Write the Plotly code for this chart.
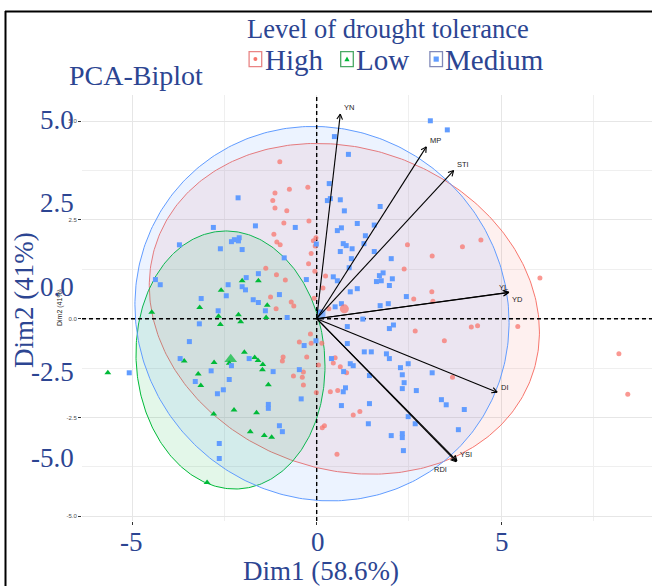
import numpy as np
import plotly.graph_objects as go

# ---------------- data ----------------
groups = ["High", "Low", "Medium"]
group_colors = ["#F8766D", "#00BA38", "#619CFF"]

high_x = [-1.00, -1.13, -0.74, -0.24, -1.19, -1.13, -0.81, -0.89, -0.21, -1.16,
          -1.08, -0.99, -0.02, -0.09, -0.04, -0.15, -0.22, -0.05, -1.38, -1.09,
          -0.85, 0.24, 0.17, -0.07, -1.25, -0.69, -0.62, -1.10, 0.33, 2.46,
          3.95, 3.13, 2.37, 3.12, 2.63, 3.15, 4.45, 6.05, 5.45, 4.19,
          4.36, 2.67, 3.46, 3.68, 8.19, 8.43, -0.17, -0.47, -0.15, 0.14,
          -0.27, -0.91, -0.93, 0.05, 0.50, 0.45, 0.64, 0.81, -0.36, -0.63,
          -0.39, -0.36, -0.01, 0.37, 0.57, 1.17, 0.99, 0.21, 0.15, 0.55]
high_y = [3.97, 3.18, 3.28, 3.33, 2.99, 2.80, 2.73, 2.42, 2.47, 2.14,
          1.94, 1.87, 2.05, 1.97, 1.84, 1.65, 1.39, 1.20, 1.28, 1.11,
          0.98, 1.08, 0.78, 0.52, 0.55, 0.42, 0.32, 0.25, 0.25, 1.87,
          1.82, 1.59, 1.26, 0.68, 0.50, 0.44, 1.99, 1.03, -0.20, -0.21,
          -0.18, -0.31, -0.56, -1.48, -0.89, -1.91, -0.39, -0.59, -0.62, -0.62,
          -0.97, -0.97, -1.07, -1.17, -0.99, -1.12, -1.22, -1.37, -1.35, -1.45,
          -1.48, -1.68, -1.87, -1.85, -1.82, -2.35, -2.44, -2.71, -2.76, -3.43]

low_x = [-2.02, -1.58, -2.59, -3.17, -4.47, -2.66, -2.12, -1.37, -1.34, -2.06,
         -2.61, -1.96, -1.68, -1.59, -1.46, -1.47, -3.59, -2.78, -2.37, -5.66,
         -3.21, -3.14, -1.31, -2.79, -2.24, -1.63, -1.80, -1.42, -1.22, -2.97]
low_y = [0.96, 0.96, 0.72, 0.28, 0.16, 0.06, 0.10, 0.03, 0.34, -0.08,
         -0.15, -0.85, -0.98, -1.06, -1.16, -1.29, -1.07, -1.11, -1.13, -1.37,
         -1.40, -1.69, -1.67, -2.41, -2.31, -2.38, -2.86, -2.96, -3.00, -4.15]

med_x = [3.08, 3.54, 0.48, 0.86, 0.34, 0.29, 0.37, 0.64, 0.75, 1.72,
         0.67, 0.56, 1.10, 1.56, 1.32, 0.72, 0.80, 0.96, 1.28, 0.64,
         1.56, 2.02, 0.94, 0.88, 1.80, 1.70, 2.05, 1.62, 1.75, 0.45,
         0.56, -0.28, 1.97, 1.10, 0.91, 2.43, 1.94, 1.72, 0.67, 0.50,
         1.25, 0.83, 1.97, 2.08, -0.01, -2.13, -2.80, -1.66, -0.58, -3.72,
         -2.31, -2.23, -2.10, -2.12, -2.61, -2.02, -0.88, -4.37, -4.24, -1.58,
         -1.91, -2.40, -2.02, -1.93, -2.45, -3.13, -1.72, -1.58, -1.01, -2.67,
         -1.39, -0.80, -3.18, -3.45, -0.34, -3.70, -1.83, -5.08, -2.31, -2.86,
         -3.29, -2.37, -2.53, -2.69, -1.18, -0.47, -0.42, -1.31, -1.31, -1.01,
         -0.93, -2.64, -2.64, -0.02, 0.83, 1.29, 1.48, 1.89, 1.97, 0.40,
         0.91, 0.99, 0.73, 1.43, 2.27, 2.48, 3.13, 2.32, 2.37, 2.32,
         2.70, 0.78, 0.72, 1.43, 0.67, 3.38, 3.51, 4.00, 2.48, 2.67,
         1.40, 3.84, 2.02, 2.32, 2.32, 2.35, 0.11]
med_y = [5.01, 4.78, 4.61, 4.16, 3.42, 2.99, 3.04, 3.01, 2.73, 2.84,
         2.30, 2.23, 2.41, 2.37, 2.10, 1.90, 1.85, 1.77, 1.90, 1.70,
         1.70, 1.52, 1.52, 1.29, 1.16, 1.09, 1.01, 0.94, 0.96, 1.06,
         0.96, 0.99, 0.84, 0.76, 0.68, 0.56, 0.38, 0.33, 0.38, 0.30,
         -0.01, -0.20, -0.25, -0.16, 1.89, 3.06, 2.31, 2.35, 2.31, 1.87,
         1.95, 2.00, 2.05, 1.97, 1.77, 1.75, 1.54, 0.99, 0.86, 1.14,
         1.04, 0.86, 0.81, 0.73, 0.58, 0.51, 0.48, 0.41, 0.61, 0.20,
         0.20, 0.03, -0.13, -0.58, -0.68, -1.01, -1.01, -1.37, -1.19, -1.32,
         -1.59, -1.54, -1.80, -1.90, -1.34, -1.29, -2.03, -2.17, -2.27, -2.71,
         -2.86, -3.16, -3.54, -0.56, -0.63, -0.84, -0.84, -0.89, -1.01, -1.01,
         -1.14, -1.19, -1.34, -1.44, -1.24, -1.14, -1.37, -1.42, -1.62, -1.77,
         -1.82, -1.75, -1.85, -2.15, -2.20, -2.05, -2.18, -2.30, -2.48, -2.66,
         -2.66, -2.81, -2.96, -2.91, -3.01, -3.34, 0.17]

# group mean points
mean_x = [0.75, -2.33, 0.13]
mean_y = [0.25, -1.03, 0.11]

# concentration ellipses: centre and covariance-like shape (Sxx, Syy, Sxy)
ell_cx = [0.75, -2.336, 0.144]
ell_cy = [0.25, -1.046, 0.127]
ell_sxx = [27.95, 6.56, 25.7]
ell_syy = [17.53, 10.67, 22.47]
ell_sxy = [-3.10, -0.40, -1.14]

# variable loadings (arrow tips)
var_names = ["YN", "MP", "STI", "YL", "YD", "DI", "YSI", "RDI"]
var_x = [0.64, 2.97, 3.71, 5.19, 5.21, 4.89, 3.80, 3.78]
var_y = [5.18, 4.35, 3.75, 0.66, 0.67, -1.86, -3.60, -3.62]

x_tick_vals = [-5, 0, 5]
x_tick_labels = ["-5", "0", "5"]
y_tick_vals = [-5.0, -2.5, 0.0, 2.5, 5.0]
y_tick_labels = ["-5.0", "-2.5", "0.0", "2.5", "5.0"]

title_text = "PCA-Biplot"
legend_title = "Level of drought tolerance"
x_title = "Dim1 (58.6%)"
y_title = "Dim2 (41%)"

# ---------------- layout geometry ----------------
W, H = 652, 586
ML, MR, MT, MB = 82, 0, 95, 65
XR = [-6.36, 9.087]
YR = [-5.122, 5.663]
SX = (W - ML - MR) / (XR[1] - XR[0])
SY = (H - MT - MB) / (YR[1] - YR[0])


def pxp(x):
    return (x - ML) / (W - ML - MR)


def pyp(y):
    return (H - MB - y) / (H - MT - MB)


NAVY = "#2c4592"
SERIF = "Liberation Serif"
SANS = "Liberation Sans"

fig = go.Figure()

# ellipses
fills = ["rgba(248,118,109,0.11)", "rgba(0,186,56,0.11)", "rgba(97,156,255,0.12)"]
t = np.linspace(0, 2 * np.pi, 361)
for i in range(3):
    l11 = np.sqrt(ell_sxx[i])
    l21 = ell_sxy[i] / l11
    l22 = np.sqrt(ell_syy[i] - l21 ** 2)
    ex = ell_cx[i] + l11 * np.cos(t)
    ey = ell_cy[i] + l21 * np.cos(t) + l22 * np.sin(t)
    fig.add_trace(go.Scatter(x=ex, y=ey, mode="lines", fill="toself",
                             fillcolor=fills[i],
                             line=dict(color=group_colors[i], width=1),
                             hoverinfo="skip", showlegend=False))

# dashed reference lines
fig.add_trace(go.Scatter(x=XR, y=[0, 0], mode="lines",
                         line=dict(color="black", width=1.4, dash="4px,3px"),
                         hoverinfo="skip", showlegend=False))
fig.add_trace(go.Scatter(x=[0, 0], y=YR, mode="lines",
                         line=dict(color="black", width=1.4, dash="4px,3px"),
                         hoverinfo="skip", showlegend=False))

# points
fig.add_trace(go.Scatter(x=high_x, y=high_y, mode="markers",
                         marker=dict(symbol="circle", size=5, color=group_colors[0],
                                     opacity=0.75, line=dict(width=0)),
                         showlegend=False))
fig.add_trace(go.Scatter(x=low_x, y=low_y, mode="markers",
                         marker=dict(symbol="triangle-up", size=6, color=group_colors[1],
                                     line=dict(width=0)),
                         showlegend=False))
fig.add_trace(go.Scatter(x=med_x, y=med_y, mode="markers",
                         marker=dict(symbol="square", size=5, color=group_colors[2],
                                     line=dict(width=0)),
                         showlegend=False))
fig.add_trace(go.Scatter(x=mean_x, y=mean_y, mode="markers",
                         marker=dict(symbol=["circle", "triangle-up", "square"],
                                     size=[9, 11, 8], color=group_colors,
                                     line=dict(width=0)),
                         showlegend=False))

# arrows
ax_l, ay_l = [], []
hx, hy = [], []
head_len = 6.0
ang = np.deg2rad(28)
for vx, vy in zip(var_x, var_y):
    ax_l += [0, vx, None]
    ay_l += [0, vy, None]
    ux, uy = vx * SX, vy * SY
    n = np.hypot(ux, uy)
    ux, uy = -ux / n, -uy / n
    for s in (ang, -ang):
        rx = ux * np.cos(s) - uy * np.sin(s)
        ry = ux * np.sin(s) + uy * np.cos(s)
        hx += [vx + rx * head_len / SX, vx, None]
        hy += [vy + ry * head_len / SY, vy, None]
fig.add_trace(go.Scatter(x=ax_l, y=ay_l, mode="lines",
                         line=dict(color="black", width=1.1),
                         hoverinfo="skip", showlegend=False))
fig.add_trace(go.Scatter(x=hx, y=hy, mode="lines",
                         line=dict(color="black", width=1.1),
                         hoverinfo="skip", showlegend=False))

# variable labels (pixel offsets from tip)
label_off = {"YN": (9, -7), "MP": (9, -6), "STI": (9, -6), "YL": (-5, -5),
             "YD": (9, 7), "DI": (8, -5), "YSI": (9, -6), "RDI": (-16, 8)}
annotations = []
for name, vx, vy in zip(var_names, var_x, var_y):
    dx, dy = label_off[name]
    annotations.append(dict(x=vx, y=vy, xref="x", yref="y", text=name,
                            showarrow=False, xshift=dx, yshift=-dy,
                            xanchor="center", yanchor="middle",
                            font=dict(family=SANS, size=7.5, color="#222222")))


def ptext(xpix, ypix, text, size, color=NAVY, family=SERIF, xanchor="center", angle=0):
    return dict(x=pxp(xpix), y=pyp(ypix), xref="paper", yref="paper",
                text=text, showarrow=False, xanchor=xanchor, yanchor="middle",
                textangle=angle, font=dict(family=family, size=size, color=color))


# small ggplot axis title
annotations.append(ptext(60, 308, y_title, 7, color="#222222", family=SANS, angle=-90))

# big overlay tick labels
big_y_pos = [457.5, 372, 287, 203, 120]
for lab, ypix in zip(y_tick_labels, big_y_pos):
    annotations.append(ptext(76, ypix, lab, 27, xanchor="right"))
big_x_pos = [131.5, 317.5, 501.5]
for lab, xpix in zip(x_tick_labels, big_x_pos):
    annotations.append(ptext(xpix, 542, lab, 27))
annotations.append(ptext(321, 571, x_title, 27))
annotations.append(ptext(24, 300, y_title, 27, angle=-90))
annotations.append(ptext(135.5, 75, title_text, 28))
annotations.append(ptext(388, 29.5, legend_title, 26.5))

# legend
leg_box_cx = [255.4, 347.0, 436.2]
leg_text_x = [262.5, 354.0, 443.0]
leg_outline = ["#e98585", "#4aa865", "#8189b9"]
shapes = []
for i, g in enumerate(groups):
    cx = leg_box_cx[i]
    shapes.append(dict(type="rect", xref="paper", yref="paper",
                       x0=pxp(cx - 6.3), x1=pxp(cx + 6.3), y0=pyp(66.6), y1=pyp(51.6),
                       line=dict(color=leg_outline[i], width=1.3), fillcolor="white"))
    annotations.append(ptext(leg_text_x[i], 60.3, g, 29, xanchor="left"))
cy0 = 59.1
shapes.append(dict(type="circle", xref="paper", yref="paper",
                   x0=pxp(leg_box_cx[0] - 2), x1=pxp(leg_box_cx[0] + 2),
                   y0=pyp(cy0 + 2), y1=pyp(cy0 - 2),
                   line=dict(width=0), fillcolor=group_colors[0]))
gx = leg_box_cx[1]
shapes.append(dict(type="path", xref="paper", yref="paper",
                   path=f"M {pxp(gx-2.6)},{pyp(cy0+2.2)} L {pxp(gx+2.6)},{pyp(cy0+2.2)} L {pxp(gx)},{pyp(cy0-2.6)} Z",
                   line=dict(width=0), fillcolor=group_colors[1]))
bx = leg_box_cx[2]
shapes.append(dict(type="rect", xref="paper", yref="paper",
                   x0=pxp(bx - 2.6), x1=pxp(bx + 2.6), y0=pyp(cy0 + 2.6), y1=pyp(cy0 - 2.6),
                   line=dict(width=0), fillcolor=group_colors[2]))

# outer frame
shapes.append(dict(type="line", xref="paper", yref="paper",
                   x0=pxp(5), x1=pxp(660), y0=pyp(11.5), y1=pyp(11.5),
                   line=dict(color="black", width=2)))
shapes.append(dict(type="line", xref="paper", yref="paper",
                   x0=pxp(5.5), x1=pxp(5.5), y0=pyp(11), y1=pyp(600),
                   line=dict(color="black", width=2)))

fig.update_layout(
    width=W, height=H,
    margin=dict(l=ML, r=MR, t=MT, b=MB, pad=0),
    paper_bgcolor="white", plot_bgcolor="white",
    showlegend=False,
    annotations=annotations,
    shapes=shapes,
    xaxis=dict(range=XR, tickvals=x_tick_vals, ticktext=x_tick_labels,
               showticklabels=False, ticks="outside", ticklen=3, tickwidth=1,
               tickcolor="#333333", showgrid=True, gridcolor="#e6e6e6", gridwidth=1,
               zeroline=False, showline=False,
               minor=dict(tickvals=[-2.5, 2.5, 7.5], showgrid=True,
                          gridcolor="#efefef", gridwidth=1, ticks="")),
    yaxis=dict(range=YR, tickvals=y_tick_vals, ticktext=y_tick_labels,
               ticks="outside", ticklen=3, tickwidth=1, tickcolor="#333333",
               tickfont=dict(family=SANS, size=6, color="#4d4d4d"),
               showgrid=True, gridcolor="#e6e6e6", gridwidth=1,
               zeroline=False, showline=False,
               minor=dict(tickvals=[-3.75, -1.25, 1.25, 3.75], showgrid=True,
                          gridcolor="#efefef", gridwidth=1, ticks="")),
)

fig.write_html("out.html",
               config={"displayModeBar": False},
               post_script="document.body.style.margin='0';document.body.style.overflow='hidden';")
